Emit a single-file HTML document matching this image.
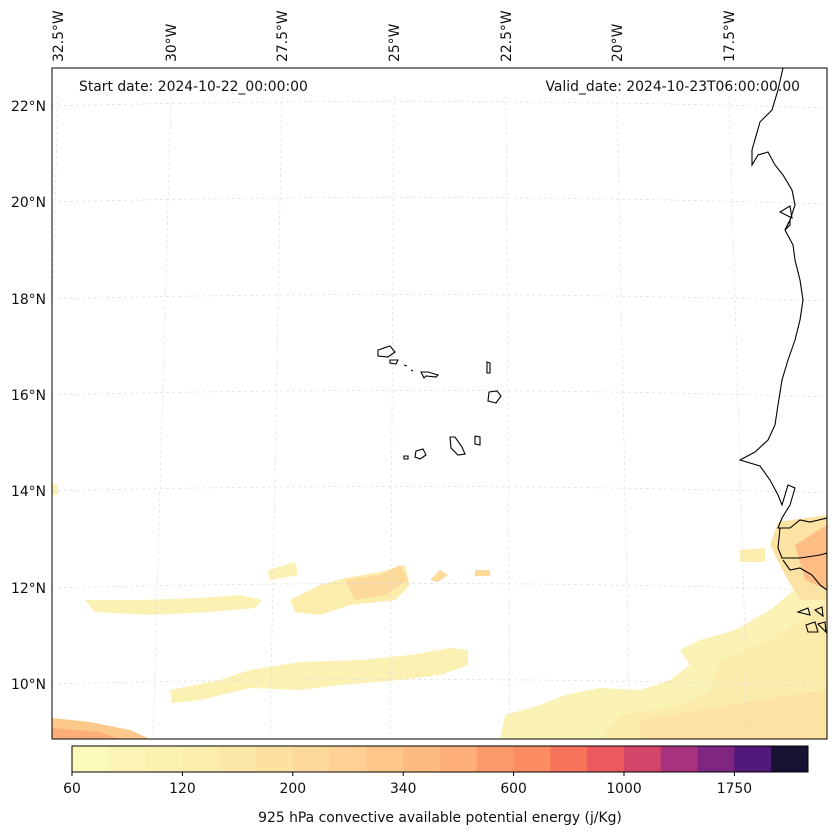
<!DOCTYPE html>
<html><head><meta charset="utf-8">
<style>
body{margin:0;background:#fff;width:837px;height:836px;overflow:hidden;font-family:"DejaVu Sans",sans-serif}
svg text{font-family:"DejaVu Sans",sans-serif;font-size:13.9px;fill:#111}
</style></head>
<body>
<svg width="837" height="836">
<defs><clipPath id="mc"><rect x="52" y="68" width="775" height="671"/></clipPath></defs>
<g id="fills" clip-path="url(#mc)">
 <path d="M680,650 L700,640 L735,630 L770,610 L800,585 L827,560 L827,739 L500,739 L505,715 L540,705 L565,695 L600,688 L640,690 L670,680 L690,665 Z" fill="#fbf3b6"/>
 <path d="M720,660 L770,640 L800,620 L827,600 L827,739 L600,739 L620,715 L680,705 L710,690 Z" fill="#fbecac"/>
 <path d="M640,720 L700,710 L760,700 L827,690 L827,739 L640,739 Z" fill="#fce3a3"/>
 <path d="M778,522 L827,515 L827,600 L800,600 L785,575 L770,545 Z" fill="#fde3a3"/>
 <path d="M795,545 L827,525 L827,590 L805,580 Z" fill="#fdbd85"/>
 <path d="M740,550 L765,548 L765,562 L740,562 Z" fill="#fbeeae"/>
 <path d="M170,690 L220,680 L250,670 L300,662 L360,660 L410,655 L450,648 L468,650 L468,665 L440,675 L400,680 L340,685 L300,690 L250,688 L200,700 L172,703 Z" fill="#fbf1b2"/>
 <path d="M85,600 L140,600 L200,598 L240,595 L262,600 L255,608 L210,612 L150,615 L95,612 Z" fill="#fbf1b2"/>
 <path d="M268,570 L295,562 L298,575 L270,580 Z" fill="#fbf1b2"/>
 <path d="M290,600 L320,585 L345,578 L380,572 L405,565 L410,585 L395,600 L350,605 L320,615 L295,612 Z" fill="#fbedac"/>
 <path d="M345,580 L380,575 L400,565 L408,580 L385,595 L355,600 Z" fill="#fdd99a"/>
 <path d="M430,580 L440,570 L448,575 L438,582 Z" fill="#fdd99a"/>
 <path d="M475,570 L490,570 L490,576 L475,576 Z" fill="#fdd99a"/>
 <path d="M52,718 L90,722 L130,730 L150,739 L52,739 Z" fill="#fdc98b"/>
 <path d="M52,728 L100,732 L120,739 L52,739 Z" fill="#fdae7b"/>
 <path d="M52,483 L58,485 L58,495 L52,495 Z" fill="#fbf1b2"/>
</g>
<g id="grid" clip-path="url(#mc)" stroke="#d8d8d8" stroke-width="0.6" stroke-dasharray="3,3" fill="none"></g>
<g clip-path="url(#mc)" stroke="#000" stroke-width="1.1" fill="none">
 <path d="M783,68 L778,90 L772,110 L760,122 L752,150 L752,165 L758,155 L768,152 L775,165 L783,175 L792,190 L795,205 L790,220 L785,230 L793,245 L795,260 L800,280 L803,300 L800,320 L795,340 L788,360 L782,380 L778,405 L775,425 L768,440 L755,452 L740,460 L760,466 L770,480 L778,495 L782,505 L788,485 L795,488 L790,505 L782,518 L778,528 L790,528 L800,520 L810,522 L827,518"/>
 <path d="M780,528 L778,548 L782,558 L800,558 L820,555 L827,553"/>
 <path d="M783,560 L790,570 L800,568 L812,575 L820,585 L827,590"/>
 <path d="M790,220 L785,230 L790,225 Z M780,212 L790,206 L792,218 Z"/>
 <path d="M798,612 L808,608 L810,615 Z M815,610 L822,607 L823,616 Z M806,625 L815,622 L818,632 L808,632 Z M818,624 L825,622 L826,632 Z"/>
 <path d="M378,350 L390,346 L395,352 L388,357 L378,356 Z"/>
 <path d="M390,360 L398,360 L396,364 L390,363 Z"/>
 <path d="M404,365 L407,366 M411,370 L413,371"/>
 <path d="M421,372 L428,372 L438,375 L436,377 L426,376 L424,378 Z"/>
 <path d="M487,362 L490,363 L490,373 L487,373 Z"/>
 <path d="M489,392 L497,391 L501,396 L496,403 L488,401 Z"/>
 <path d="M450,437 L455,437 L462,447 L465,454 L458,455 L451,448 Z"/>
 <path d="M475,436 L480,437 L480,445 L475,444 Z"/>
 <path d="M416,451 L423,449 L426,455 L420,459 L415,457 Z"/>
 <path d="M404,456 L408,456 L408,459 L404,459 Z"/>
</g>
<rect x="52" y="68" width="775" height="671" fill="none" stroke="#000" stroke-width="1"/>
<text x="79" y="91">Start date: 2024-10-22_00:00:00</text>
<text x="800" y="91" text-anchor="end">Valid_date: 2024-10-23T06:00:00.00</text>
<g id="lonlab"></g>
<g id="latlab"></g>
<g id="cbar"></g>
<text x="440" y="822" text-anchor="middle">925 hPa convective available potential energy (j/Kg)</text>
</svg>
<script>
const NS="http://www.w3.org/2000/svg";
const lonLabels=["32.5°W","30°W","27.5°W","25°W","22.5°W","20°W","17.5°W"];
const lonTopX=[58,171,282,394,506,617,729];
const lonBotX=[40,153,270,390,510,630,748];
const latLabels=["22°N","20°N","18°N","16°N","14°N","12°N","10°N"];
const latY=[106,202,299,395,491,588,684];
const cbColors=["#fbfabb","#fbf4b6","#fbf1b1","#fbeeae","#fbe8a6","#fce1a0","#fcd99b","#fdd093","#fec789","#febb7f","#feb078","#fd9a6a","#fc8d62","#f7735c","#ec5a5f","#d24569","#a8327e","#7f2582","#511a7a","#161234"];
const cbTicks=["60","120","200","340","600","1000","1750"];
const grid=document.getElementById('grid');
lonTopX.forEach((x,i)=>{const l=document.createElementNS(NS,'line');


l.setAttribute('x1',x);l.setAttribute('y1',96);l.setAttribute('x2',lonBotX[i]);l.setAttribute('y2',739);grid.appendChild(l);
const t=document.createElementNS(NS,'text');


t.setAttribute('transform',`translate(${x+5},62) rotate(-90)`);t.textContent=lonLabels[i];document.getElementById('lonlab').appendChild(t);});
latY.forEach((y,i)=>{const p=document.createElementNS(NS,'path');


p.setAttribute('d',`M52,${y} Q440,${y-10} 827,${y+2}`);grid.appendChild(p);
const t=document.createElementNS(NS,'text');


t.setAttribute('x',46);t.setAttribute('y',y+5);t.setAttribute('text-anchor','end');t.textContent=latLabels[i];document.getElementById('latlab').appendChild(t);});
const cb=document.getElementById('cbar');const x0=72,w=736,bw=w/cbColors.length;
cbColors.forEach((c,i)=>{const r=document.createElementNS(NS,'rect');


r.setAttribute('x',x0+i*bw);r.setAttribute('y',746);r.setAttribute('width',bw+0.5);r.setAttribute('height',26);r.setAttribute('fill',c);cb.appendChild(r);});
const fr=document.createElementNS(NS,'rect');


fr.setAttribute('x',x0);fr.setAttribute('y',746);fr.setAttribute('width',w);fr.setAttribute('height',26);fr.setAttribute('fill','none');fr.setAttribute('stroke','#000');cb.appendChild(fr);
cbTicks.forEach((s,i)=>{const x=x0+i*3*bw;const l=document.createElementNS(NS,'line');


l.setAttribute('x1',x);l.setAttribute('x2',x);l.setAttribute('y1',772);l.setAttribute('y2',776);l.setAttribute('stroke','#000');cb.appendChild(l);
const t=document.createElementNS(NS,'text');


t.setAttribute('x',x);t.setAttribute('y',793);t.setAttribute('text-anchor','middle');t.textContent=s;cb.appendChild(t);});
</script>
</body></html>
